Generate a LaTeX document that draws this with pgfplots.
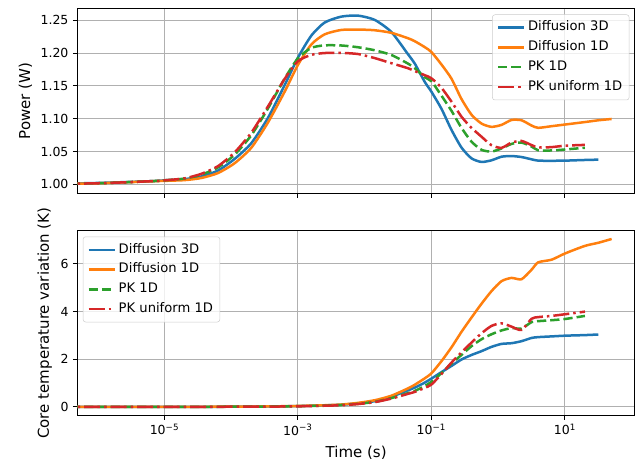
\documentclass[border=0pt]{standalone}
\usepackage{fontspec}
\setmainfont{DejaVu Sans}
\usepackage{pgfplots}
\usepackage{pgfplotstable}
\pgfplotsset{compat=1.18}
\definecolor{c0}{HTML}{1F77B4}
\definecolor{c1}{HTML}{FF7F0E}
\definecolor{c2}{HTML}{2CA02C}
\definecolor{c3}{HTML}{D62728}
\definecolor{gridc}{HTML}{B0B0B0}
\definecolor{legc}{HTML}{CCCCCC}

\pgfplotstableread{
t        d3      d1      pk      pku
1e-7     1.000   1.000   1.000   1.000
1e-6     1.002   1.0015  1.0015  1.0015
6.310e-6 1.0047  1.0045  1.0047  1.0047
1e-5     1.006   1.0052  1.006   1.006
1.995e-5 1.0078  1.0063  1.0087  1.009
3.548e-5 1.0118  1.0095  1.0145  1.0158
6.310e-5 1.0208  1.017   1.0255  1.0275
1.122e-4 1.0385  1.032   1.045   1.0485
1.995e-4 1.0625  1.0555  1.0745  1.0785
3.548e-4 1.101   1.094   1.1155  1.1185
6.310e-4 1.151   1.141   1.161   1.1605
1e-3     1.193   1.182   1.192   1.1875
1.585e-3 1.2265  1.213   1.2078  1.1972
2.512e-3 1.2465  1.2285  1.2117  1.2
4.467e-3 1.2555  1.2352  1.2115  1.2002
7.943e-3 1.257   1.2358  1.2088  1.1985
1.413e-2 1.2505  1.2347  1.2042  1.1923
2.512e-2 1.232   1.2308  1.197   1.1845
4.467e-2 1.198   1.2225  1.1838  1.1768
5.623e-2 1.184   1.218   1.177   1.1725
7.943e-2 1.156   1.209   1.163   1.1662
0.1      1.141   1.2015  1.157   1.1615
0.1413   1.115   1.1825  1.135   1.147
0.1995   1.083   1.161   1.112   1.126
0.2818   1.056   1.13    1.086   1.103
0.3981   1.0395  1.106   1.065   1.086
0.5623   1.034   1.0925  1.0525  1.0725
0.7943   1.0365  1.0875  1.0498  1.0595
1.122    1.042   1.0905  1.0545  1.0555
1.585    1.043   1.098   1.0615  1.0635
2.239    1.0415  1.0975  1.0635  1.066
3.162    1.038   1.0895  1.0575  1.0597
3.981    1.036   1.086   1.0518  1.0562
6.310    1.0358  1.0885  1.0515  1.0566
10       1.036   1.091   1.053   1.0588
19.95    1.037   1.0948  1.0556  1.0600
31.62    1.0375  1.0975  nan     nan
50.12    nan     1.0995  nan     nan
}\toptab

\pgfplotstableread{
t        d3      d1      pk      pku
1e-7     0       0       0       0
1e-6     0       0       0       0
6.310e-6 0.001   0.001   0.001   0.001
1e-5     0.002   0.002   0.002   0.002
1.995e-5 0.003   0.004   0.003   0.003
3.548e-5 0.005   0.006   0.005   0.004
6.310e-5 0.007   0.008   0.006   0.006
1.122e-4 0.009   0.011   0.009   0.008
1.995e-4 0.013   0.015   0.012   0.010
3.548e-4 0.018   0.021   0.016   0.014
6.310e-4 0.026   0.030   0.023   0.019
1e-3     0.035   0.04    0.03    0.025
1.585e-3 0.048   0.055   0.042   0.036
2.512e-3 0.065   0.07    0.055   0.05
4.467e-3 0.09    0.10    0.08    0.07
7.943e-3 0.15    0.17    0.13    0.12
1.413e-2 0.24    0.28    0.21    0.20
2.512e-2 0.43    0.47    0.37    0.35
4.467e-2 0.70    0.78    0.58    0.55
5.623e-2 0.81    0.93    0.67    0.63
7.943e-2 1.02    1.20    0.88    0.80
0.1      1.19    1.41    1.05    0.94
0.1413   1.46    1.92    1.42    1.38
0.1995   1.72    2.50    1.82    1.86
0.2818   1.99    3.15    2.18    2.29
0.3981   2.18    3.75    2.55    2.70
0.5623   2.34    4.33    2.84    3.09
0.7943   2.52    4.86    3.05    3.40
1.122    2.645   5.28    3.21    3.51
1.585    2.675   5.415   3.31    3.37
2.239    2.76    5.36    3.29    3.23
3.162    2.895   5.76    3.56    3.70
3.981    2.93    6.07    3.60    3.77
6.310    2.96    6.18    3.64    3.82
10       2.99    6.44    3.69    3.89
19.95    3.015   6.76    3.82    4.00
31.62    3.04    6.89    nan     nan
50.12    nan     7.05    nan     nan
}\bottab

\tikzset{
  s0/.style={c0, solid, line width=2pt},
  s1/.style={c1, solid, line width=2pt},
  s2/.style={c2, line width=2pt, dash pattern=on 7.4pt off 3.2pt},
  s3/.style={c3, line width=2pt, dash pattern=on 12.8pt off 3.2pt on 2pt off 3.2pt},
}

\begin{document}
\begin{tikzpicture}
\useasboundingbox (0,0) rectangle (514.4pt,372.8pt);
\begin{axis}[
  scale only axis, width=446.2pt, height=147.5pt,
  at={(61.8pt,218.2pt)}, anchor=south west,
  xmode=log, xmin=4.93e-7, xmax=112.2,
  xtick={1e-5,1e-3,1e-1,10}, xminorticks=false,
  xticklabels={},
  ymin=0.9863, ymax=1.2673,
  ytick={1.00,1.05,1.10,1.15,1.20,1.25},
  yticklabel style={/pgf/number format/fixed, /pgf/number format/fixed zerofill, /pgf/number format/precision=2},
  grid=major, major grid style={color=gridc, line width=0.8pt},
  axis line style={line width=0.8pt},
  tick style={line width=0.8pt, color=black},
  major tick length=3.5pt, tick align=outside, tick pos=left,
  /pgf/number format/assume math mode=true,
  ticklabel style={font=\fontsize{10}{12}\selectfont},
  label style={font=\fontsize{12}{14}\selectfont},
  ylabel={Power (W)},
  legend cell align=left,
  legend style={font=\fontsize{10.5}{12.5}\selectfont, draw=legc, rounded corners=2pt,
      fill=white, fill opacity=0.8, text opacity=1, inner xsep=3.5pt, inner ysep=2.5pt,
      row sep=0pt, nodes={inner ysep=2.7pt, text height=7.8pt, text depth=2.6pt},
      at={(1,1)}, anchor=north east, xshift=-4.5pt, yshift=-4.5pt},
  legend image code/.code={\draw[#1] (0pt,0pt) -- (21pt,0pt);},
]
\addplot[s0, smooth, tension=0.4] table[x=t, y=d3] {\toptab}; \addlegendentry{Diffusion 3D}
\addplot[s1, smooth, tension=0.4] table[x=t, y=d1] {\toptab}; \addlegendentry{Diffusion 1D}
\addplot[s2, smooth, tension=0.4] table[x=t, y=pk] {\toptab}; \addlegendentry{PK 1D}
\addplot[s3, smooth, tension=0.4] table[x=t, y=pku] {\toptab}; \addlegendentry{PK uniform 1D}
\end{axis}
\begin{axis}[
  scale only axis, width=446.2pt, height=147.5pt,
  at={(61.8pt,40.6pt)}, anchor=south west,
  xmode=log, xmin=4.93e-7, xmax=112.2,
  xtick={1e-5,1e-3,1e-1,10}, xminorticks=false,
  xticklabels={10\textsuperscript{−5},10\textsuperscript{−3},10\textsuperscript{−1},10\textsuperscript{1}},
  ymin=-0.35, ymax=7.39,
  ytick={0,2,4,6},
  grid=major, major grid style={color=gridc, line width=0.8pt},
  axis line style={line width=0.8pt},
  tick style={line width=0.8pt, color=black},
  major tick length=3.5pt, tick align=outside, tick pos=left,
  /pgf/number format/assume math mode=true,
  ticklabel style={font=\fontsize{10}{12}\selectfont},
  label style={font=\fontsize{12}{14}\selectfont},
  xlabel={Time (s)},
  xlabel style={yshift=-2pt},
  ylabel={Core temperature variation (K)},
  legend cell align=left,
  legend style={font=\fontsize{10.5}{12.5}\selectfont, draw=legc, rounded corners=2pt,
      fill=white, fill opacity=0.8, text opacity=1, inner xsep=3.5pt, inner ysep=2.5pt,
      row sep=0pt, nodes={inner ysep=2.7pt, text height=7.8pt, text depth=2.6pt},
      at={(0,1)}, anchor=north west, xshift=4.5pt, yshift=-4.5pt},
  legend image code/.code={\draw[#1] (0pt,0pt) -- (21pt,0pt);},
]
\addplot[s0, smooth, tension=0.4] table[x=t, y=d3] {\bottab}; \addlegendentry{Diffusion 3D}
\addplot[s1, smooth, tension=0.4] table[x=t, y=d1] {\bottab}; \addlegendentry{Diffusion 1D}
\addplot[s2, smooth, tension=0.4] table[x=t, y=pk] {\bottab}; \addlegendentry{PK 1D}
\addplot[s3, smooth, tension=0.4] table[x=t, y=pku] {\bottab}; \addlegendentry{PK uniform 1D}
\end{axis}
\end{tikzpicture}
\end{document}
